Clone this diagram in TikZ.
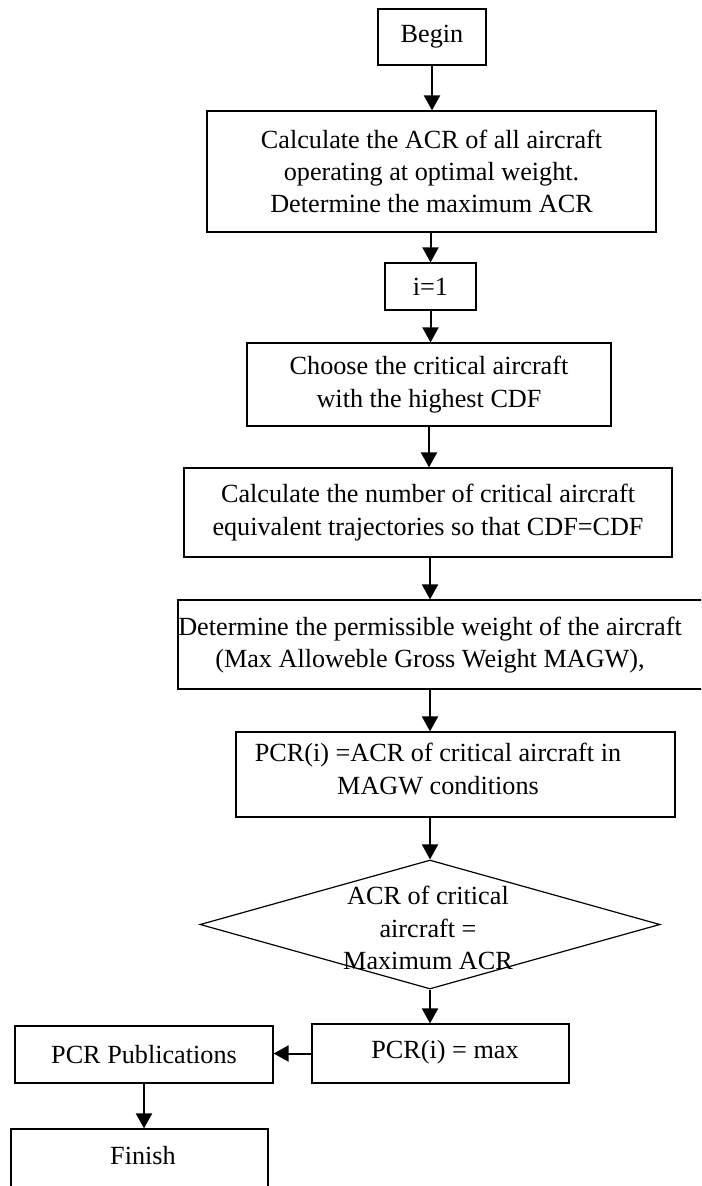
\documentclass[tikz,border=0pt]{standalone}
\usepackage{fontspec}
\setmainfont{Liberation Serif}
\usetikzlibrary{arrows.meta, shapes.geometric}

\begin{document}
\begin{tikzpicture}[x=0.5pt, y=-0.5pt,
        every node/.style={font=\fontsize{13.1}{16.2}\selectfont, align=center},
        box/.style={draw, line width=0.6pt, inner sep=0pt},
        flow/.style={line width=1pt, -{Triangle[length=7.5pt, width=8pt]}}]
        \clip (0, 0) rectangle (701, 1186);
        \node[box, minimum width=54pt, minimum height=28pt] (begin) at (432, 37)
            {Begin};
        \node[box, minimum width=224.5pt, minimum height=60.5pt] (calc) at (431.5, 171.5)
            {Calculate the ACR of all aircraft\\operating at optimal weight.\\Determine the maximum ACR};
        \node[box, minimum width=45.5pt, minimum height=23.5pt] (init) at (430.5, 286.5)
            {i=1};
        \node[box, minimum width=182pt, minimum height=41.5pt] (choose) at (429, 384.5)
            {Choose the critical aircraft\\with the highest CDF};
        \node[box, minimum width=244pt, minimum height=44.5pt] (number) at (428, 512.5)
            {Calculate the number of critical aircraft\\equivalent trajectories so that CDF=CDF};
        \node[box, minimum width=271pt, minimum height=44.5pt] (weight) at (449, 644.5) {};
        \node (wtext) at (430, 645)
            {Determine the permissible weight of the aircraft\\(Max Alloweble Gross Weight MAGW),};
        \node[box, minimum width=219.5pt, minimum height=42.5pt] (pcr) at (455.5, 774.5) {};
        \node (ptext) at (438, 769)
            {PCR(i) =ACR of critical aircraft in\\MAGW conditions};
        \node[box, diamond, minimum width=230pt, minimum height=64.5pt] (check) at (430, 924.5) {};
        \node (ctext) at (428, 928)
            {ACR of critical\\aircraft =\\Maximum ACR};
        \node[box, minimum width=128.5pt, minimum height=29.5pt] (max) at (440.5, 1053.5) {};
        \node (mtext) at (445, 1052) {PCR(i) = max};
        \node[box, minimum width=129pt, minimum height=28.5pt] (pub) at (144, 1054.5)
            {PCR Publications};
        \node[box, minimum width=128.5pt, minimum height=35.5pt] (finish) at (139.5, 1164.5) {};
        \node (ftext) at (143, 1156) {Finish};

        \draw[flow] (begin.south) -- (begin.south |- calc.north);
        \draw[flow] (init.north |- calc.south) -- (init.north);
        \draw[flow] (init.south) -- (init.south |- choose.north);
        \draw[flow] (choose.south) -- (choose.south |- number.north);
        \draw[flow] (wtext |- number.south) -- (wtext |- weight.north);
        \draw[flow] (wtext |- weight.south) -- (wtext |- pcr.north);
        \draw[flow] (check.north |- pcr.south) -- (check.north);
        \draw[flow] (check.south) -- (check.south |- max.north);
        \draw[flow] (max.west) -- (max.west -| pub.east);
        \draw[flow] (pub.south) -- (pub.south |- finish.north);
    \end{tikzpicture}
\end{document}
